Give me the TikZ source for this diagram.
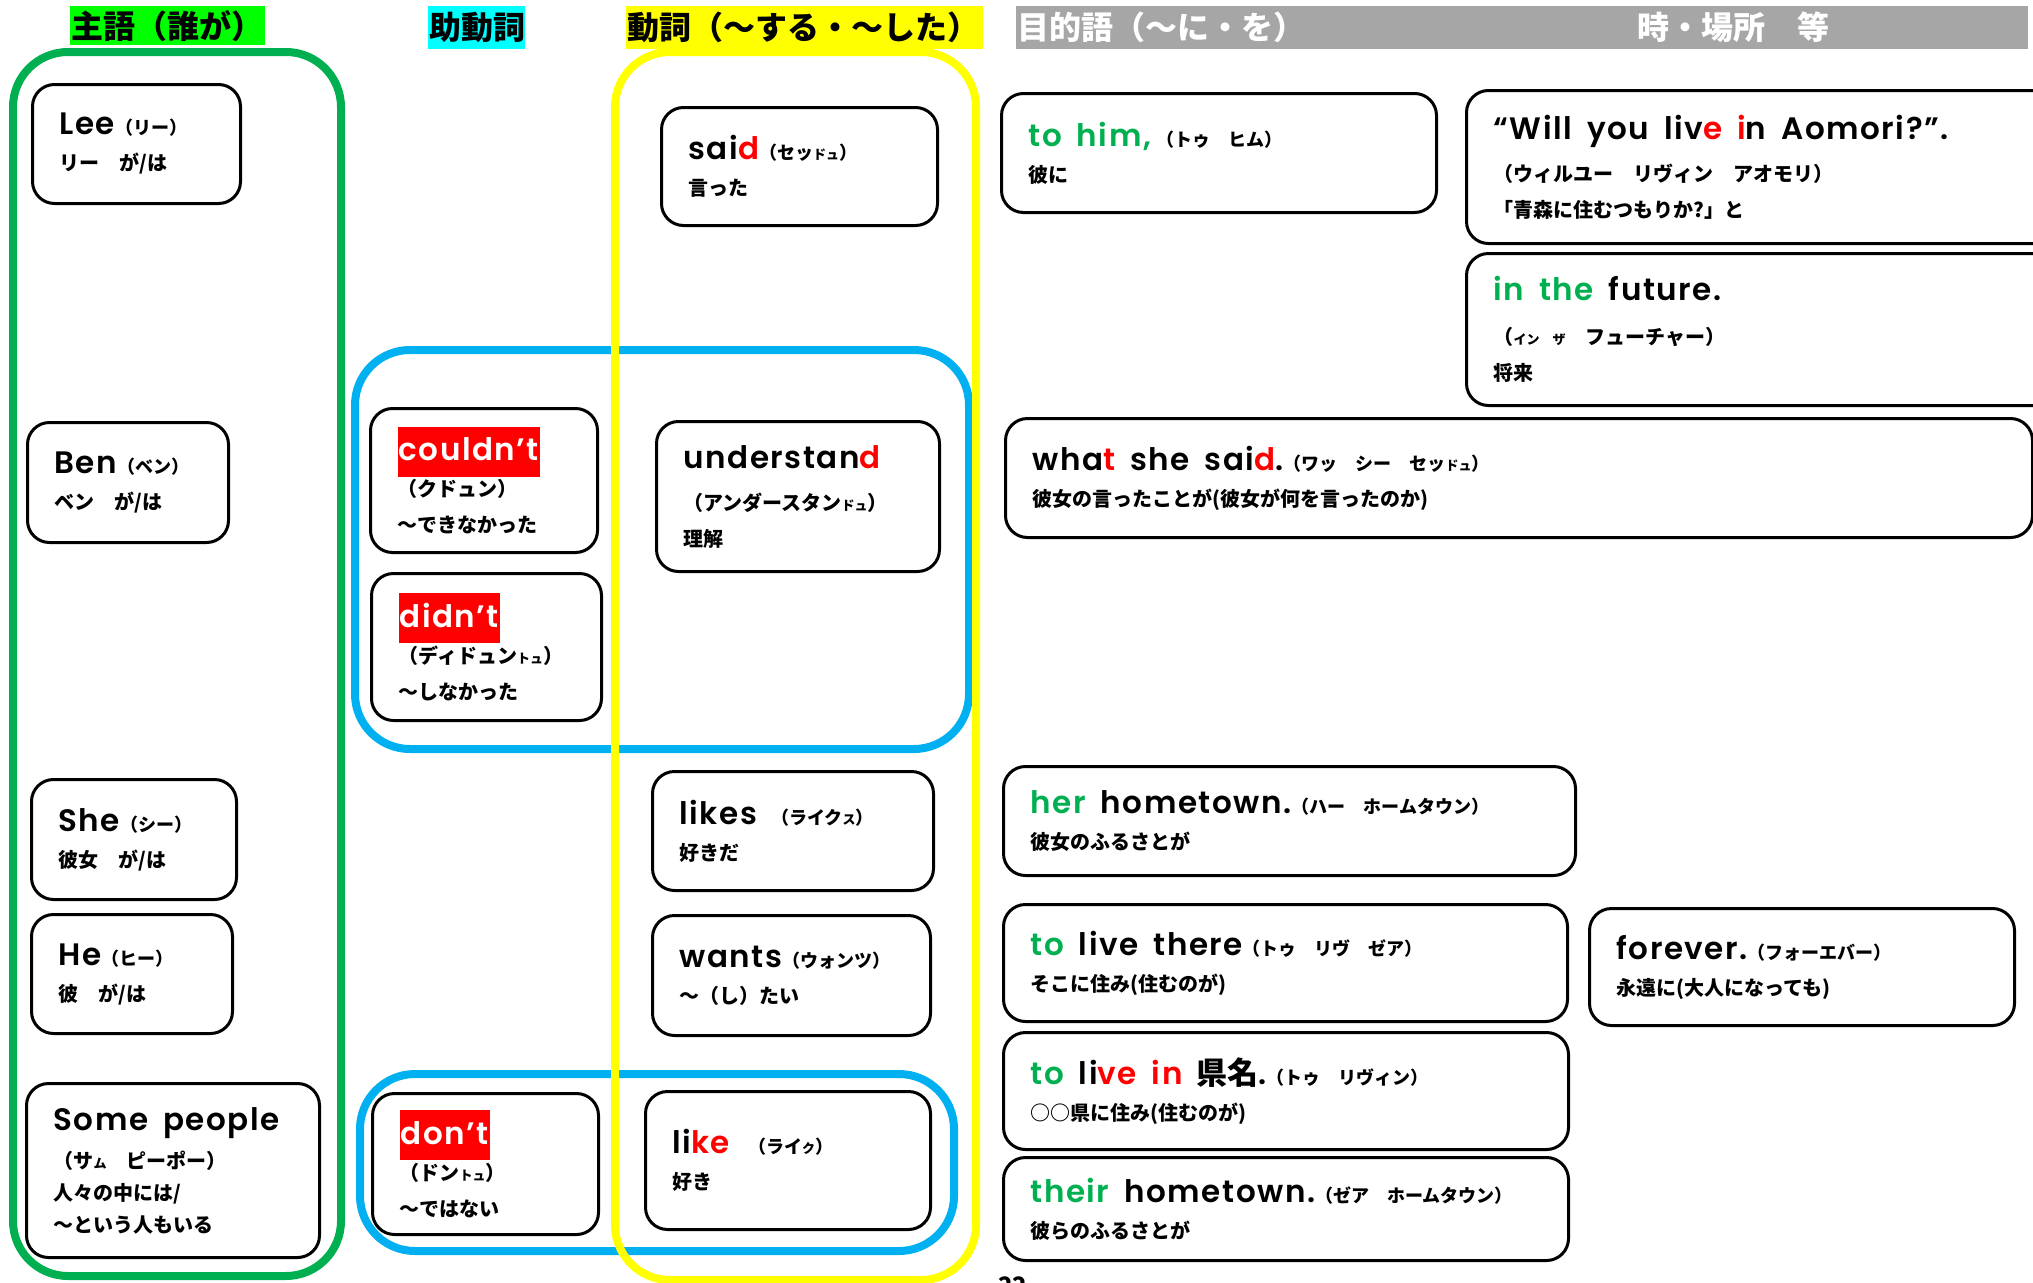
\documentclass[tikz,border=0pt]{standalone}
\usepackage{fontspec}
\setmainfont{Noto Sans CJK JP}
\newfontfamily\enfont{Poppins}[UprightFont=* SemiBold, LetterSpace=5]
\usepackage{xcolor}
\usetikzlibrary{positioning}

\definecolor{hdgreen}{HTML}{00FF00}
\definecolor{hdcyan}{HTML}{00FFFF}
\definecolor{hdyellow}{HTML}{FFFF00}
\definecolor{hdgray}{HTML}{A6A6A6}
\definecolor{framegreen}{HTML}{00B050}
\definecolor{frameblue}{HTML}{00B0F0}
\definecolor{wordgreen}{HTML}{00B050}

\newcommand{\eng}[1]{{\enfont\mdseries\fontsize{31}{36}\selectfont\spaceskip=15pt\relax #1}}
\newcommand{\yomi}[1]{{\fontsize{18}{36}\selectfont #1}}
\newcommand{\tinykana}[1]{{\fontsize{13}{36}\selectfont #1}}
\newcommand{\redtxt}[1]{\textcolor{red}{#1}}
\newcommand{\grntxt}[1]{\textcolor{wordgreen}{#1}}
\newcommand{\redword}[1]{{\setlength{\fboxsep}{1pt}\colorbox{red}{\rule[-15pt]{0pt}{48pt}\textcolor{white}{\eng{#1}}}}}

\begin{document}
\begin{tikzpicture}[x=1pt, y=-1pt,
            head/.style={anchor=north west, align=left, inner xsep=1pt, inner ysep=0pt,
                 font=\bfseries\fontsize{32}{34}\selectfont},
            frame/.style={line width=8pt, rounded corners=55pt},
            wbox/.style={draw, line width=3pt, rounded corners=22pt, anchor=north west, align=left,
                 inner xsep=27pt, inner ysep=0pt, font=\bfseries\fontsize{20}{36}\selectfont}
            ]

            \fill[white] (0,0) rectangle (2033,1282);
            \useasboundingbox (0,0) rectangle (2033,1282);

            % Column heads
            \node[head, fill=hdgreen, text width=193pt, minimum height=39pt] (hsubj) at (70,6) {主語（誰が）};
            \node[head, fill=hdcyan, text width=95pt, minimum height=43pt] (haux) at (428,6) {助動詞};
            \node[head, fill=hdyellow, text width=355pt, minimum height=43pt] (hverb) at (626,6) {動詞（～する・～した）};
            \node[head, fill=hdgray, text=white, text width=1010pt, minimum height=43pt] (hobj) at (1016,6) {目的語（～に・を）};
            \node[head, text=white, anchor=west] (hplace) at (1636,27.5) {時・場所　等};

            % Frames
            \draw[frame, frameblue] (355,350) rectangle (969,749);
            \draw[frame, frameblue] (360,1074) rectangle (954,1251);
            \draw[frame, framegreen] (13,52) rectangle (341,1276);
            \draw[frame, hdyellow] (615,52) rectangle (976,1280);

            % Subjects
            \node[wbox, text width=154pt, minimum height=119pt] (lee) at (31,83) {\eng{Lee}\yomi{（リー）}\\ リー　が/は};
            \node[wbox, text width=147pt, minimum height=120pt] (ben) at (26,421) {\eng{Ben}\yomi{（ベン）}\\ ベン　が/は};
            \node[wbox, text width=151pt, minimum height=120pt] (she) at (30,778) {\eng{She}\yomi{（シー）}\\ 彼女　が/は};
            \node[wbox, text width=147pt, minimum height=119pt] (he) at (30,913) {\eng{He}\yomi{（ヒー）}\\ 彼　が/は};
            \node[wbox, text width=239pt, minimum height=174pt, font=\bfseries\fontsize{20}{32}\selectfont] (some) at (25,1082)
                {\eng{Some people}\\[6pt] （サ\tinykana{ム}　ピーポー）\\ 人々の中には/\\ ～という人もいる};

            % Auxiliaries
            \node[wbox, text width=173pt, minimum height=144pt] (couldnt) at (369,407) {\redword{couldn’t}\\ （クドュン）\\ ～できなかった};
            \node[wbox, text width=176pt, minimum height=147pt] (didnt) at (370,572) {\redword{didn’t}\\ （ディドュン\tinykana{トュ}）\\ ～しなかった};
            \node[wbox, text width=172pt, minimum height=141pt] (dont) at (371,1092) {\redword{don’t}\\ （ドン\tinykana{トュ}）\\ ～ではない};

            % Verbs
            \node[wbox, text width=222pt, minimum height=118pt] (said) at (660,106) {\eng{sai\redtxt{d}}\yomi{（セッ\tinykana{ドュ}）}\\ 言った};
            \node[wbox, text width=229pt, minimum height=150pt] (understand) at (655,420)
                {\eng{understan\redtxt{d}}\\[6pt] （アンダースタン\tinykana{ドュ}）\\ 理解};
            \node[wbox, text width=227pt, minimum height=119pt] (likes) at (651,770) {\eng{likes}\hspace{14pt}\yomi{（ライク\tinykana{ス}）}\\ 好きだ};
            \node[wbox, text width=224pt, minimum height=120pt] (wants) at (651,914) {\eng{wants}\yomi{（ウォンツ）}\\ ～（し）たい};
            \node[wbox, text width=231pt, minimum height=138pt] (like) at (644,1090) {\eng{li\redtxt{ke}}\hspace{18pt}\yomi{（ライ\tinykana{ク}）}\\ 好き};

            % Objects, time, place
            \node[wbox, text width=381pt, minimum height=119pt] (tohim) at (1000,92) {\eng{\grntxt{to him,}}\hspace{6pt}\yomi{（トゥ　ヒム）}\\ 彼に};
            \node[wbox, text width=536pt, minimum height=153pt] (aomori) at (1465,89)
                {\eng{“Will you liv\redtxt{e} \redtxt{i}n Aomori?”.}\\[6pt] （ウィルユー　リヴィン　アオモリ）\\ 「青森に住むつもりか?」と};
            \node[wbox, text width=536pt, minimum height=152pt] (future) at (1465,252)
                {\eng{\grntxt{in the} future.}\\[8pt] （\tinykana{イン　ザ}　フューチャー）\\ 将来};
            \node[wbox, text width=973pt, minimum height=119pt] (what) at (1004,417)
                {\eng{wha\redtxt{t} she sai\redtxt{d}.}\yomi{（ワッ　シー　セッ\tinykana{ドュ}）}\\ 彼女の言ったことが(彼女が何を言ったのか)};
            \node[wbox, text width=518pt, minimum height=109pt] (her) at (1002,765) {\eng{\grntxt{her} hometown.}\yomi{（ハー　ホームタウン）}\\ 彼女のふるさとが};
            \node[wbox, text width=510pt, minimum height=117pt] (there) at (1002,903) {\eng{\grntxt{to} live there}\yomi{（トゥ　リヴ　ゼア）}\\ そこに住み(住むのが)};
            \node[wbox, text width=371pt, minimum height=117pt] (forever) at (1588,907) {\eng{forever.}\yomi{（フォーエバー）}\\ 永遠に(大人になっても)};
            \node[wbox, text width=511pt, minimum height=117pt] (livein) at (1002,1031)
                {\eng{\grntxt{to} li\redtxt{ve} \redtxt{in}}\hspace{14pt}{\fontsize{31}{36}\selectfont 県名}\eng{.}\yomi{（トゥ　リヴィン）}\\ ○○県に住み(住むのが)};
            \node[wbox, text width=511pt, minimum height=103pt] (their) at (1002,1156) {\eng{\grntxt{their} hometown.}\yomi{（ゼア　ホームタウン）}\\ 彼らのふるさとが};

            % Page number
            \node[anchor=north west, inner sep=0pt, font=\bfseries\fontsize{24}{24}\selectfont] (pagenum) at (998,1277) {22};
        \end{tikzpicture}
\end{document}
